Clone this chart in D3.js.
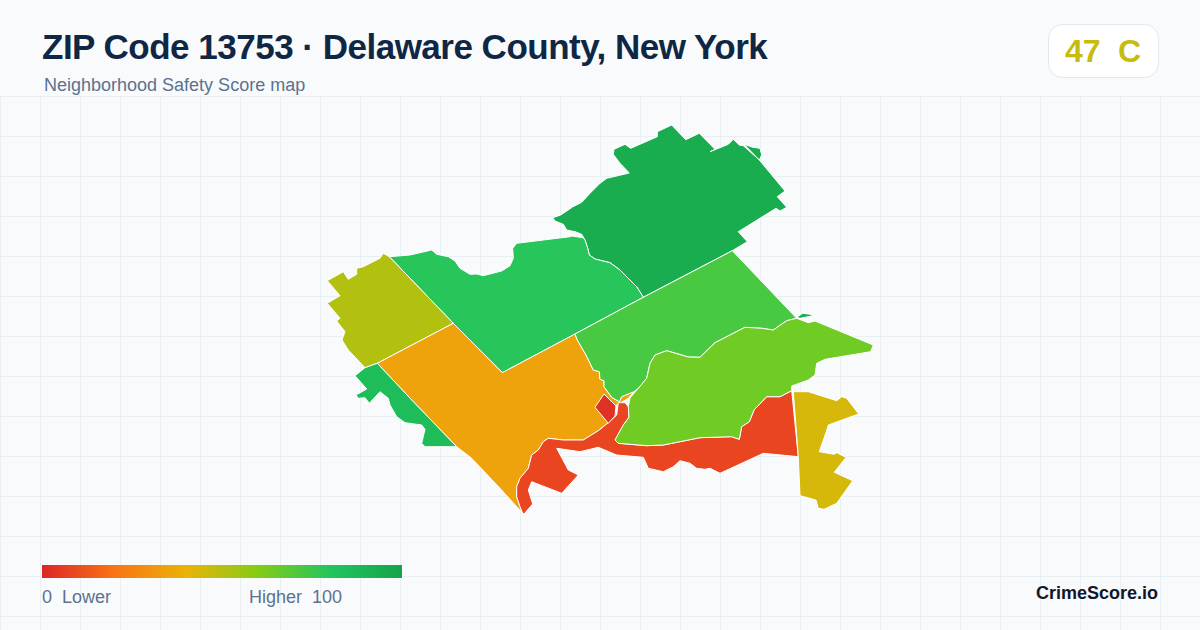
<!DOCTYPE html>
<html>
<head>
<meta charset="utf-8">
<title>ZIP Code 13753</title>
<script src="https://cdn.jsdelivr.net/npm/d3@7/dist/d3.min.js"></script>
<style>
	html, body {margin: 0; padding: 0; background: #f8fafc;}
	svg {display: block;}
	text {font-family: "Liberation Sans", Arial, sans-serif;}
</style>
</head>
<body>
<svg id="chart" width="1200" height="630"></svg>
<script>
// Textos
var titleText = "ZIP Code 13753 · Delaware County, New York";
var subtitleText = "Neighborhood Safety Score map";
var brandText = "CrimeScore.io";
var overallScore = 47;
var overallGrade = "C";
var legendLabels = ["0", "Lower", "Higher", "100"];

// Escala de color (score -> color)
var scoreStops = [0, 20, 40, 60, 80, 100];
var colorStops = ["#dc2626", "#f97316", "#eab308", "#84cc16", "#22c55e", "#16a34a"];

// Puntuación de cada zona
var tractScores = [94, 94, 79, 51, 35, 85, 8, 3, 72, 64, 44, 94];

// Contornos de cada zona, en unidades de mapa
var tractNorth = [[232.7,97.7],[240.7,95],[253,86.7],[261.7,82.3],[270,73.3],[280,63.3],[286.7,58.3],[309.3,53],[300,43.3],[293.3,34.3],[294,29.3],[305,24.3],[310.7,28.3],[337.3,16.7],[337.3,11.7],[351.7,5],[365.7,19.7],[379.3,13.3],[395,29.3],[390,31.7],[408.3,24.3],[413.3,19.3],[419.3,25],[423.3,25.7],[439.3,40],[465,71],[457.3,76.7],[466.7,87.3],[460,91],[456,88.3],[418.3,111.7],[427.3,121.7],[412.3,130.7],[323.3,177.3],[316.7,166.7],[308.3,158.3],[300,150],[290,142.7],[275,139],[269.3,135],[267.7,128.3],[265,120],[261.7,114.3],[255,111.7],[246.7,110],[243.3,104.3],[235,101]];
var tractNorthTip = [[424,24.3],[433,27.3],[440,28.3],[441.7,35],[439.3,40]];
var tractCentre = [[69.3,136.7],[90,135],[111.7,130],[116.7,134.3],[128.3,136.7],[135,141],[140,148.3],[150,154.3],[156.7,154],[163.3,155.7],[181.7,151],[190,145.7],[193.3,138.3],[192.7,128.3],[196.7,123.3],[250,116.7],[251.7,116],[263,117.7],[265,120],[267.7,128.3],[269.3,135],[275,139],[290,142.7],[300,150],[308.3,158.3],[316.7,166.7],[323.3,177.3],[255,214],[182.3,252.7],[133.3,203.3]];
var tractWest = [[63.3,133.3],[60,138.3],[43.3,146.7],[36.7,148.3],[36.7,154.3],[28.3,159.3],[23.3,151.7],[7.3,160.7],[20,175.7],[7.3,183.3],[20,198.3],[16.7,201],[25,211.7],[22,220],[28.3,230],[45,247.7],[57.3,243.3],[133.3,203.3],[69.3,136.7]];
var tractSouthWest = [[57.3,243.3],[133.3,203.3],[182.3,252.7],[255,214],[257.3,220],[266,235],[273.3,250],[279.3,251.7],[280,259.3],[284,260.7],[284,266.7],[291.7,277.3],[299.3,281.7],[301.7,276.7],[314,271.7],[308.3,278.3],[295,286],[296.7,295],[286.7,304],[278.3,310.7],[263.3,320],[243.3,320],[228.3,318.3],[223.3,321.7],[218.3,330],[211.7,335],[208.3,348.3],[200,358.3],[196.7,366.7],[196.7,376.7],[200,386.7],[202.7,393.3],[180,368.3],[151.7,338.3],[136.7,326.7],[91.7,280]];
var tractSliver = [[57.3,243.3],[45,247.7],[35,255.7],[46.7,269],[36,275],[38.3,278.3],[45,277.7],[49.3,283.3],[60,271.7],[68.3,278.3],[70,285],[76.7,296.7],[85,302.7],[101.7,305],[105,309.3],[101.7,323.3],[105,326.7],[136.7,326.7],[91.7,280]];
var tractRiver = [[305,282.7],[308.3,286.7],[309,297.3],[303.3,305],[295,320],[298.3,323.3],[326.7,325.7],[343.3,325],[380,317.7],[411.7,316.7],[419.3,319.3],[421.7,306.7],[429.3,301.7],[434,290],[446.7,276.7],[460,276.7],[471.7,270.7],[478.3,336.7],[443.3,333.3],[400,353.3],[390,348.3],[385,349.3],[376.7,348.3],[370,343.3],[360,340.7],[353.3,346.7],[343.3,351.7],[328.3,348.3],[323.3,337.3],[296.7,335],[278.3,327.3],[260,331.7],[236.7,328.3],[248.3,350],[258.3,355],[241.7,373.3],[211.7,361.7],[208.3,370],[212.7,384],[204,394],[202.7,393.3],[200,386.7],[196.7,376.7],[196.7,366.7],[200,358.3],[208.3,348.3],[211.7,335],[218.3,330],[223.3,321.7],[228.3,318.3],[243.3,320],[263.3,320],[278.3,310.7],[286.7,304],[296.7,295],[298.3,282.7]];
var tractVillage = [[284,274],[296,286],[295,296],[288.3,303.3],[275,287.3]];
var tractEast = [[323.3,177.3],[412.3,130.7],[476.7,198.3],[466.7,200.7],[453.3,210],[441.7,208.3],[425,207.3],[395,222.7],[380,237.3],[368.3,237],[346.7,230.7],[335,235],[330,243.3],[326.7,258.3],[318.3,268.3],[314,271.7],[301.7,276.7],[299.3,281.7],[291.7,277.3],[284,266.7],[284,260.7],[280,259.3],[279.3,251.7],[273.3,250],[266,235],[257.3,220],[255,214]];
var tractSouthEast = [[476.7,198.3],[488.3,202.7],[495,201],[553.3,225],[550.7,231.7],[505,239.3],[496.7,243.3],[495,255],[488.3,260],[471.7,266],[471.7,270.7],[460,276.7],[446.7,276.7],[434,290],[429.3,301.7],[421.7,306.7],[419.3,319.3],[411.7,316.7],[380,317.7],[343.3,325],[326.7,325.7],[298.3,323.3],[295,320],[303.3,305],[309,297.3],[308.3,286.7],[310,278],[318.3,268.3],[326.7,258.3],[330,243.3],[335,235],[346.7,230.7],[368.3,237],[380,237.3],[395,222.7],[425,207.3],[441.7,208.3],[453.3,210],[466.7,200.7]];
var tractFarEast = [[473.3,271.7],[488.3,271.7],[516.7,280.7],[521.7,276.7],[526.7,278.3],[538.7,294],[508.3,305],[505.7,313.3],[499.3,331.7],[514,334.3],[516.7,332.7],[526,337.3],[514.3,352.3],[532.7,360.7],[516.7,383.3],[504,389.3],[498.3,388.3],[496,380],[480,375.7],[478.3,336.7]];
var tractIslet = [[476.7,197.3],[482.7,193.3],[488.3,194],[495,195],[488.3,196.7],[480,198.3]];

var tractRings = [tractNorth, tractNorthTip, tractCentre, tractWest, tractSouthWest, tractSliver, tractRiver, tractVillage, tractEast, tractSouthEast, tractFarEast, tractIslet];

var svg = d3.select("#chart");
var width = 1200, height = 630;

var color = d3.scaleLinear().domain(scoreStops).range(colorStops);

// Fondo y cuadrícula
svg.append("rect").attr("width", width).attr("height", height).attr("fill", "#f8fafc");
var grid = svg.append("g").attr("stroke", "#e8f0f4").attr("stroke-width", 1);
grid.selectAll("line.v").data(d3.range(0, width, 40)).enter().append("line")
	.attr("class", "v")
	.attr("x1", function(d) {return d + 0.5;}).attr("x2", function(d) {return d + 0.5;})
	.attr("y1", 96).attr("y2", height);
grid.selectAll("line.h").data(d3.range(96, height, 40)).enter().append("line")
	.attr("class", "h")
	.attr("x1", 0).attr("x2", width)
	.attr("y1", function(d) {return d + 0.5;}).attr("y2", function(d) {return d + 0.5;});

// Mapa
var x = d3.scaleLinear().domain([0, 560]).range([320, 880]);
var y = d3.scaleLinear().domain([0, 400]).range([120, 520]);
var ringPath = d3.line()
	.x(function(d) {return x(d[0]);})
	.y(function(d) {return y(d[1]);})
	.curve(d3.curveLinearClosed);

svg.append("g").selectAll("path").data(tractRings).enter().append("path")
	.attr("d", ringPath)
	.attr("fill", function(d, i) {return color(tractScores[i]);})
	.attr("stroke", "#ffffff")
	.attr("stroke-width", 1)
	.attr("stroke-linejoin", "round");

// Cabecera
svg.append("text").attr("x", 42).attr("y", 59)
	.attr("font-size", 35).attr("font-weight", 700).attr("letter-spacing", -0.5).attr("fill", "#0f2744")
	.text(titleText);
svg.append("text").attr("x", 44).attr("y", 91)
	.attr("font-size", 18).attr("fill", "#5b7290")
	.text(subtitleText);

// Nota global
svg.append("rect").attr("x", 1048.5).attr("y", 24.5).attr("width", 110).attr("height", 53).attr("rx", 14)
	.attr("fill", "#ffffff").attr("stroke", "#e2e8f0");
svg.append("text").attr("x", 1065).attr("y", 62)
	.attr("font-size", 32).attr("font-weight", 700).attr("fill", color(overallScore))
	.text(overallScore);
svg.append("text").attr("x", 1118).attr("y", 62)
	.attr("font-size", 32).attr("font-weight", 700).attr("fill", color(overallScore))
	.text(overallGrade);

// Leyenda
var legendScale = d3.scaleLinear().domain([0, 100]).range([42, 402]);
var gradient = svg.append("defs").append("linearGradient").attr("id", "legend-gradient");
gradient.selectAll("stop").data(scoreStops).enter().append("stop")
	.attr("offset", function(d) {return d + "%";})
	.attr("stop-color", function(d) {return color(d);});
svg.append("rect")
	.attr("x", legendScale(0)).attr("y", 565)
	.attr("width", legendScale(100) - legendScale(0)).attr("height", 13)
	.attr("fill", "url(#legend-gradient)");

var legendPositions = [42, 62, 249, 312];
svg.append("g").selectAll("text").data(legendLabels).enter().append("text")
	.attr("x", function(d, i) {return legendPositions[i];})
	.attr("y", 603)
	.attr("font-size", 18)
	.attr("fill", "#5b7290")
	.text(function(d) {return d;});

svg.append("text").attr("x", 1158).attr("y", 599)
	.attr("text-anchor", "end")
	.attr("font-size", 18).attr("font-weight", 700).attr("fill", "#0f172a")
	.text(brandText);
</script>
</body>
</html>
